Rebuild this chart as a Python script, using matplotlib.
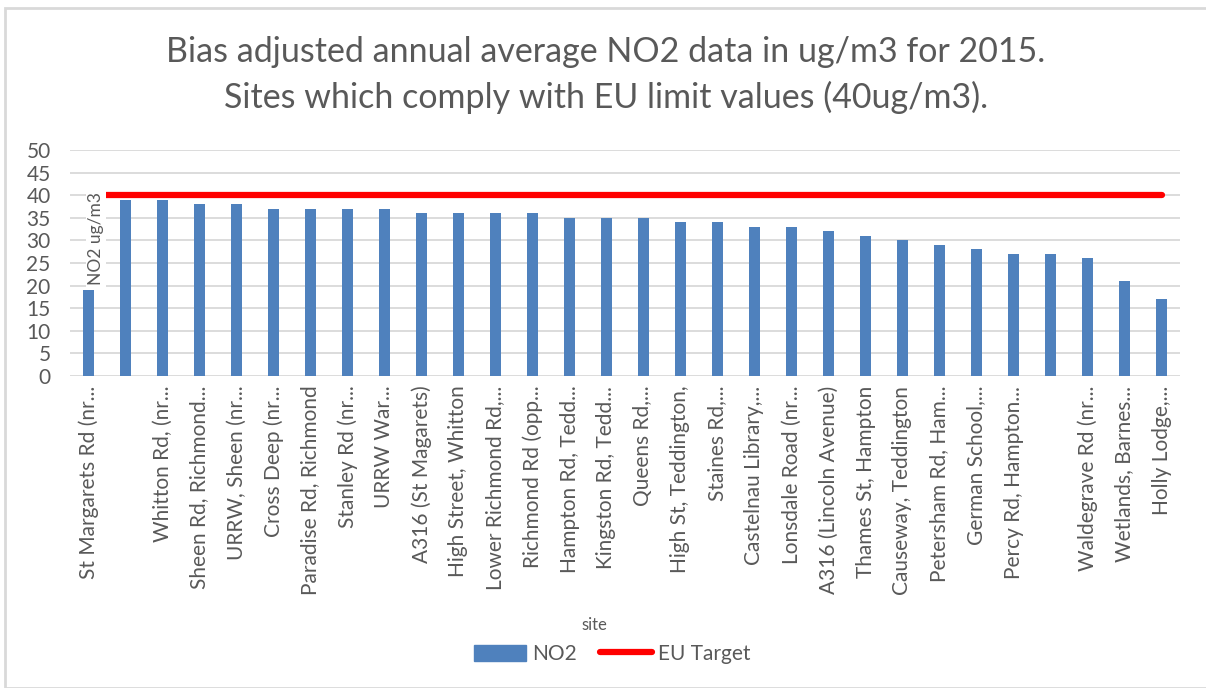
import matplotlib
matplotlib.use("Agg")
import matplotlib.pyplot as plt
from matplotlib.patches import Rectangle
from matplotlib.lines import Line2D
import numpy as np

# site labels as shown on the chart (some are blank)
sites = ["St Margarets Rd (nr...", "", "Whitton Rd, (nr...", "Sheen Rd, Richmond...",
         "URRW, Sheen (nr...", "Cross Deep (nr...", "Paradise Rd, Richmond", "Stanley Rd (nr...",
         "URRW War...", "A316 (St Magarets)", "High Street, Whitton", "Lower Richmond Rd,...",
         "Richmond Rd (opp...", "Hampton Rd, Tedd...", "Kingston Rd, Tedd...", "Queens Rd,...",
         "High St, Teddington,", "Staines Rd,...", "Castelnau Library,...", "Lonsdale Road (nr...",
         "A316 (Lincoln Avenue)", "Thames St, Hampton", "Causeway, Teddington", "Petersham Rd, Ham...",
         "German School,...", "Percy Rd, Hampton...", "", "Waldegrave Rd (nr...",
         "Wetlands, Barnes...", "Holly Lodge,..."]
no2 = [19, 39, 39, 38, 38, 37, 37, 37, 37, 36, 36, 36, 36, 35, 35, 35, 34, 34,
       33, 33, 32, 31, 30, 29, 28, 27, 27, 26, 21, 17]
eu_target = [40] * len(sites)

plt.rcParams['font.family'] = ['Lato', 'DejaVu Sans']
grey = '#595959'
blue = '#4F81BD'

fig = plt.figure(figsize=(12.06, 6.88), dpi=100)
W, H = 1206, 688
# chart border
fig.patches.append(Rectangle((5 / W, 0), 1.2, 1 - 8 / H, transform=fig.transFigure,
                             fill=False, edgecolor='#d9d9d9', linewidth=2))

ax = fig.add_axes([70 / W, 1 - 376 / H, (1180 - 70) / W, (376 - 150) / H])
x = np.arange(len(sites))
ax.bar(x, no2, width=0.31, color=blue, zorder=3, label='NO2')
ax.plot(x, eu_target, color='#FF0000', linewidth=4.5, solid_capstyle='round', zorder=4, label='EU Target')

ax.set_xlim(-0.5, len(sites) - 0.5)
ax.set_ylim(0, 50)
ax.set_yticks(range(0, 51, 5))
ax.grid(axis='y', color='#d9d9d9', linewidth=1.3, zorder=0)
for s in ax.spines.values():
    s.set_visible(False)
ax.tick_params(axis='y', length=0, labelsize=15, labelcolor=grey, pad=14)
ax.tick_params(axis='x', length=0, labelsize=15, labelcolor=grey, pad=7)
ax.set_xticks(x)
ax.set_xticklabels(sites, rotation=90, ha='center', va='top')

ax.text(0.2, 30.5, 'NO2 ug/m3', rotation=90, ha='center', va='center', fontsize=12.5,
        color=grey, zorder=5,
        bbox=dict(facecolor='white', edgecolor='none', pad=1.5))

fig.text(606 / W, 1 - 52 / H, 'Bias adjusted annual average NO2 data in ug/m3 for 2015.',
         ha='center', va='center', fontsize=24.5, color=grey)
fig.text(606 / W, 1 - 97 / H, 'Sites which comply with EU limit values (40ug/m3).',
         ha='center', va='center', fontsize=24.5, color=grey)

fig.text(594 / W, 1 - 625 / H, 'site', ha='center', va='center', fontsize=12, color=grey)

handles = [Rectangle((0, 0), 1, 1, color=blue),
           Line2D([0], [0], color='#FF0000', linewidth=4.5, solid_capstyle='round')]
fig.legend(handles, ['NO2', 'EU Target'], loc='center', bbox_to_anchor=(612 / W, 1 - 654 / H),
           ncol=2, frameon=False, fontsize=15, labelcolor=grey, handlelength=2.5,
           handleheight=0.8, columnspacing=1.1, handletextpad=0.3)

fig.savefig('out.png', dpi=100)
